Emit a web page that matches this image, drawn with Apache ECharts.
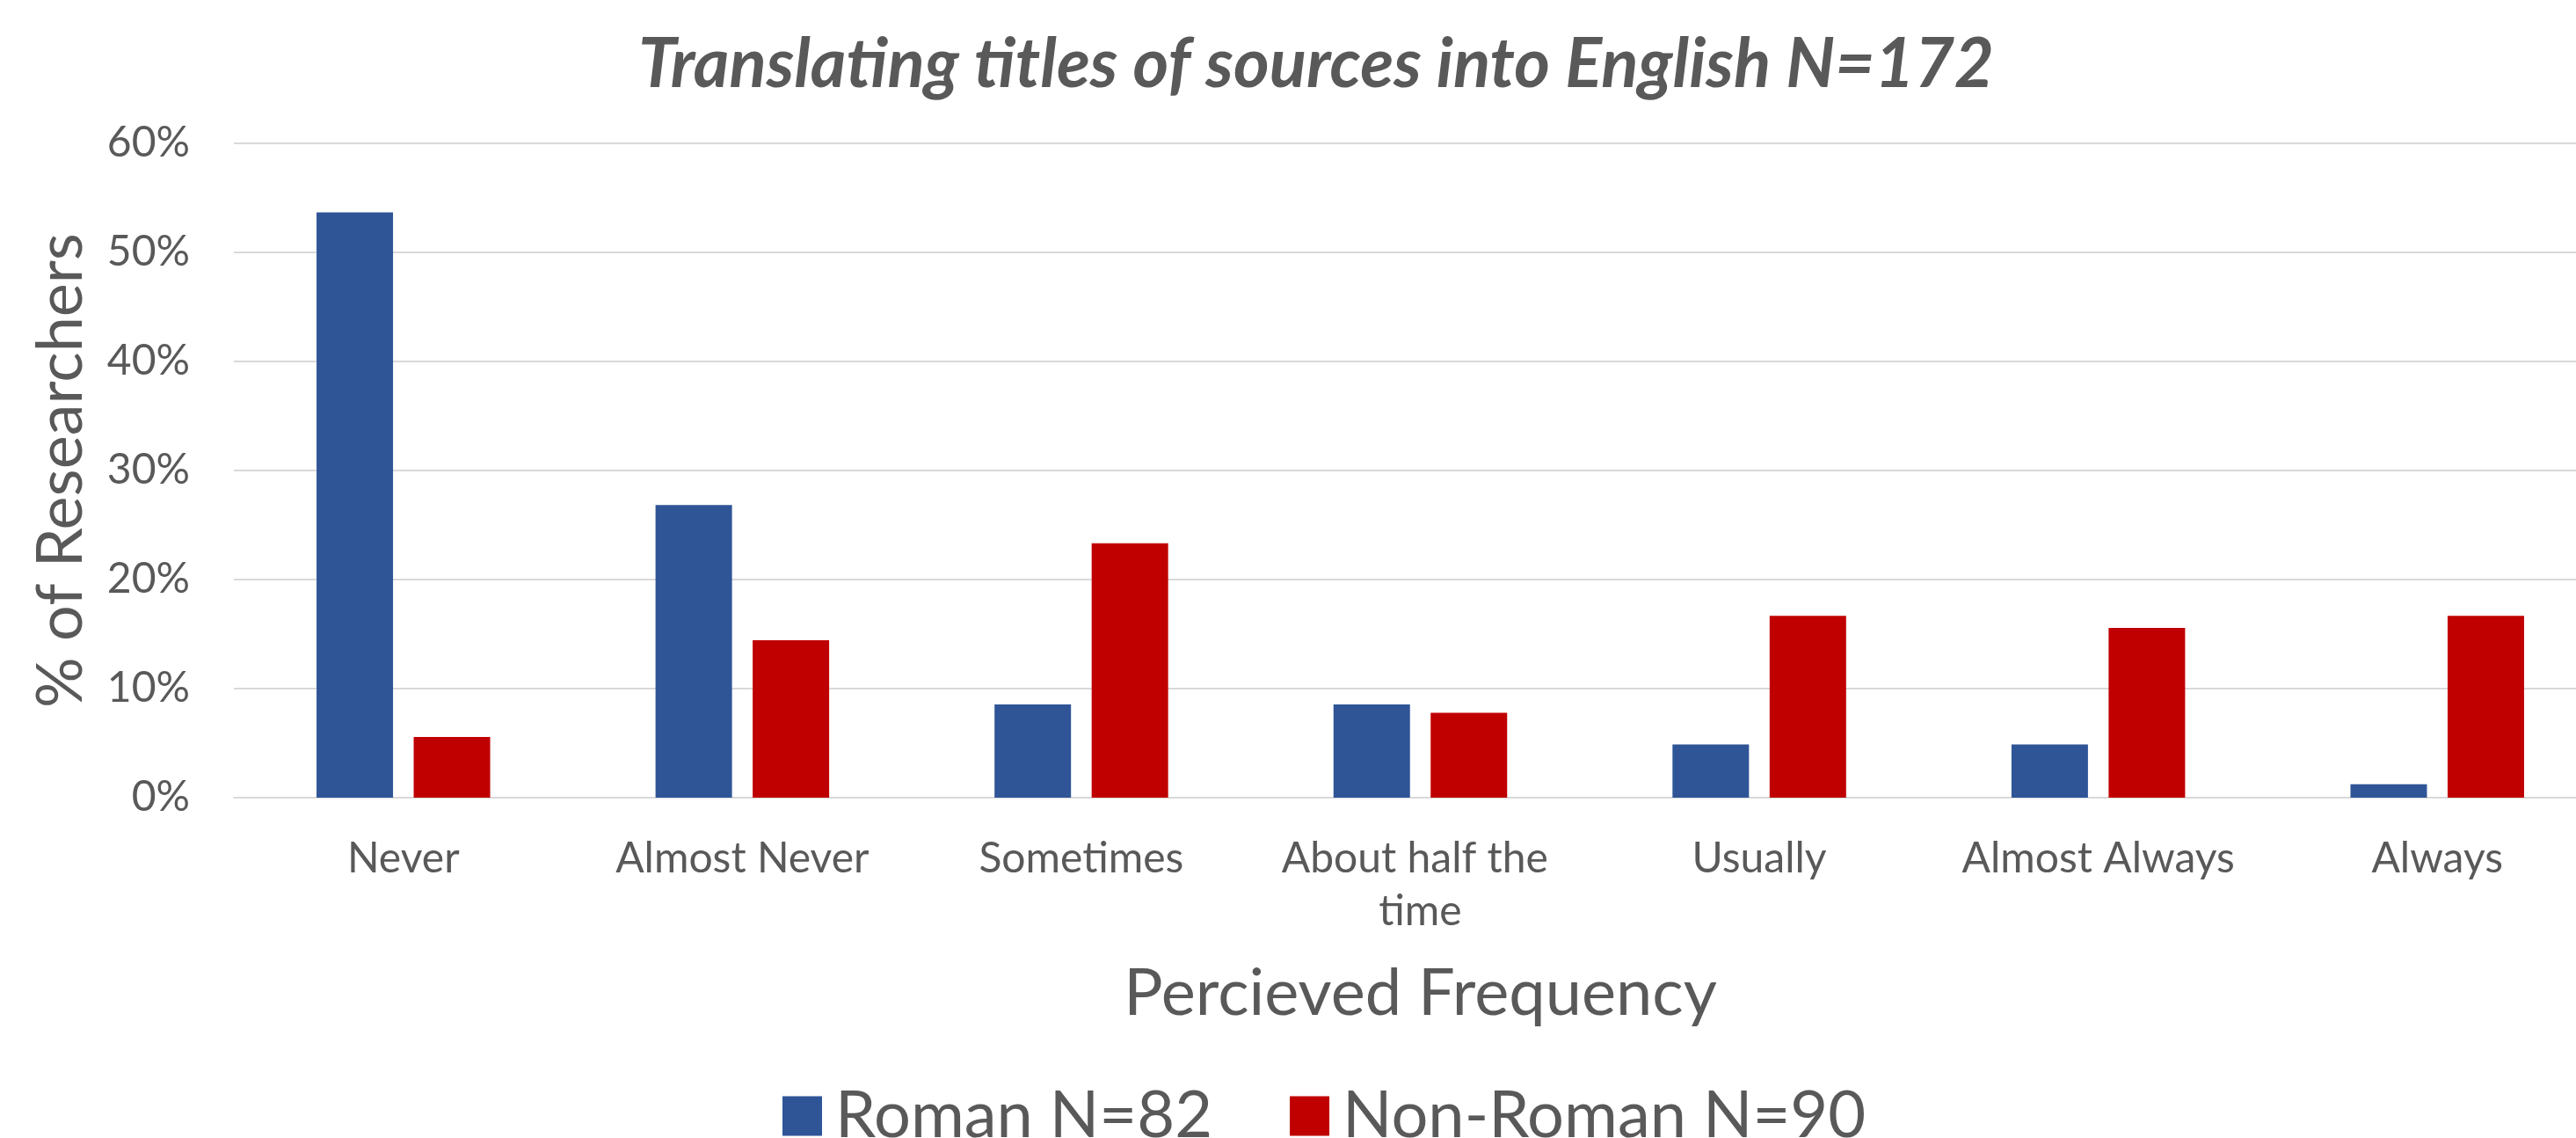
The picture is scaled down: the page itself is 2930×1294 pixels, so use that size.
<!DOCTYPE html>
<html>
<head>
<meta charset="utf-8">
<script src="https://cdn.jsdelivr.net/npm/echarts@6/dist/echarts.min.js"></script>
<style>
  html, body { margin: 0; padding: 0; background: #ffffff; overflow: hidden; }
  /* plot area runs slightly past the right edge of the window */
  #chart { width: 2965px; height: 1294px; }
</style>
</head>
<body>
<div id="chart"></div>
<script>
// Response categories along the x axis
const categories = ['Never', 'Almost Never', 'Sometimes', 'About half the time', 'Usually', 'Almost Always', 'Always'];

// Share of researchers (%) per group
const romanValues = [53.66, 26.83, 8.54, 8.54, 4.88, 4.88, 1.22];
const nonRomanValues = [5.56, 14.44, 23.33, 7.78, 16.67, 15.56, 16.67];

// Y-axis ticks (%)
const yTicks = [0, 10, 20, 30, 40, 50, 60];

const seriesNames = ['Roman N=82', 'Non-Roman N=90'];
const FONT = 'Lato, "Open Sans", sans-serif';
const TEXT = '#595959';

const chart = echarts.init(document.getElementById('chart'), null, { renderer: 'canvas' });

chart.setOption({
  backgroundColor: '#ffffff',
  animation: false,
  title: {
    text: 'Translating titles of sources into English N=172',
    left: 1492,
    textAlign: 'center',
    top: 30,
    textStyle: {
      fontFamily: FONT,
      fontSize: 78,
      fontWeight: 'bold',
      fontStyle: 'italic',
      color: TEXT
    }
  },
  legend: {
    data: seriesNames,
    left: 885,
    top: 1224,
    itemWidth: 45,
    itemHeight: 45,
    itemGap: 88,
    icon: 'rect',
    textStyle: { fontFamily: FONT, fontSize: 74, lineHeight: 80, color: TEXT, padding: [0, 0, 0, 10] }
  },
  grid: {
    left: 266,
    top: 163,
    right: 0,
    height: 744,
    containLabel: false
  },
  xAxis: {
    type: 'category',
    data: categories,
    name: 'Percieved Frequency',
    nameLocation: 'middle',
    nameGap: 186,
    nameTextStyle: { fontFamily: FONT, fontSize: 74, color: TEXT },
    axisLine: { show: true, lineStyle: { color: '#D9D9D9', width: 2 } },
    axisTick: { show: false },
    axisLabel: {
      fontFamily: FONT,
      fontSize: 48,
      color: TEXT,
      margin: 40,
      lineHeight: 60,
      width: 340,
      overflow: 'break',
      interval: 0
    }
  },
  yAxis: {
    type: 'value',
    min: yTicks[0],
    max: yTicks[yTicks.length - 1],
    interval: yTicks[1] - yTicks[0],
    name: '% of Researchers',
    nameLocation: 'middle',
    nameRotate: 90,
    nameGap: 160,
    nameTextStyle: { fontFamily: FONT, fontSize: 72, color: TEXT },
    axisLine: { show: false },
    axisTick: { show: false },
    axisLabel: {
      fontFamily: FONT,
      fontSize: 48,
      color: TEXT,
      margin: 50,
      formatter: '{value}%'
    },
    splitLine: { show: true, lineStyle: { color: '#D9D9D9', width: 2 } }
  },
  series: [
    {
      name: seriesNames[0],
      type: 'bar',
      data: romanValues,
      barWidth: 87,
      barGap: '27%',
      itemStyle: { color: '#2F5597' }
    },
    {
      name: seriesNames[1],
      type: 'bar',
      data: nonRomanValues,
      barWidth: 87,
      barGap: '27%',
      itemStyle: { color: '#C00000' }
    }
  ]
});
</script>
</body>
</html>
